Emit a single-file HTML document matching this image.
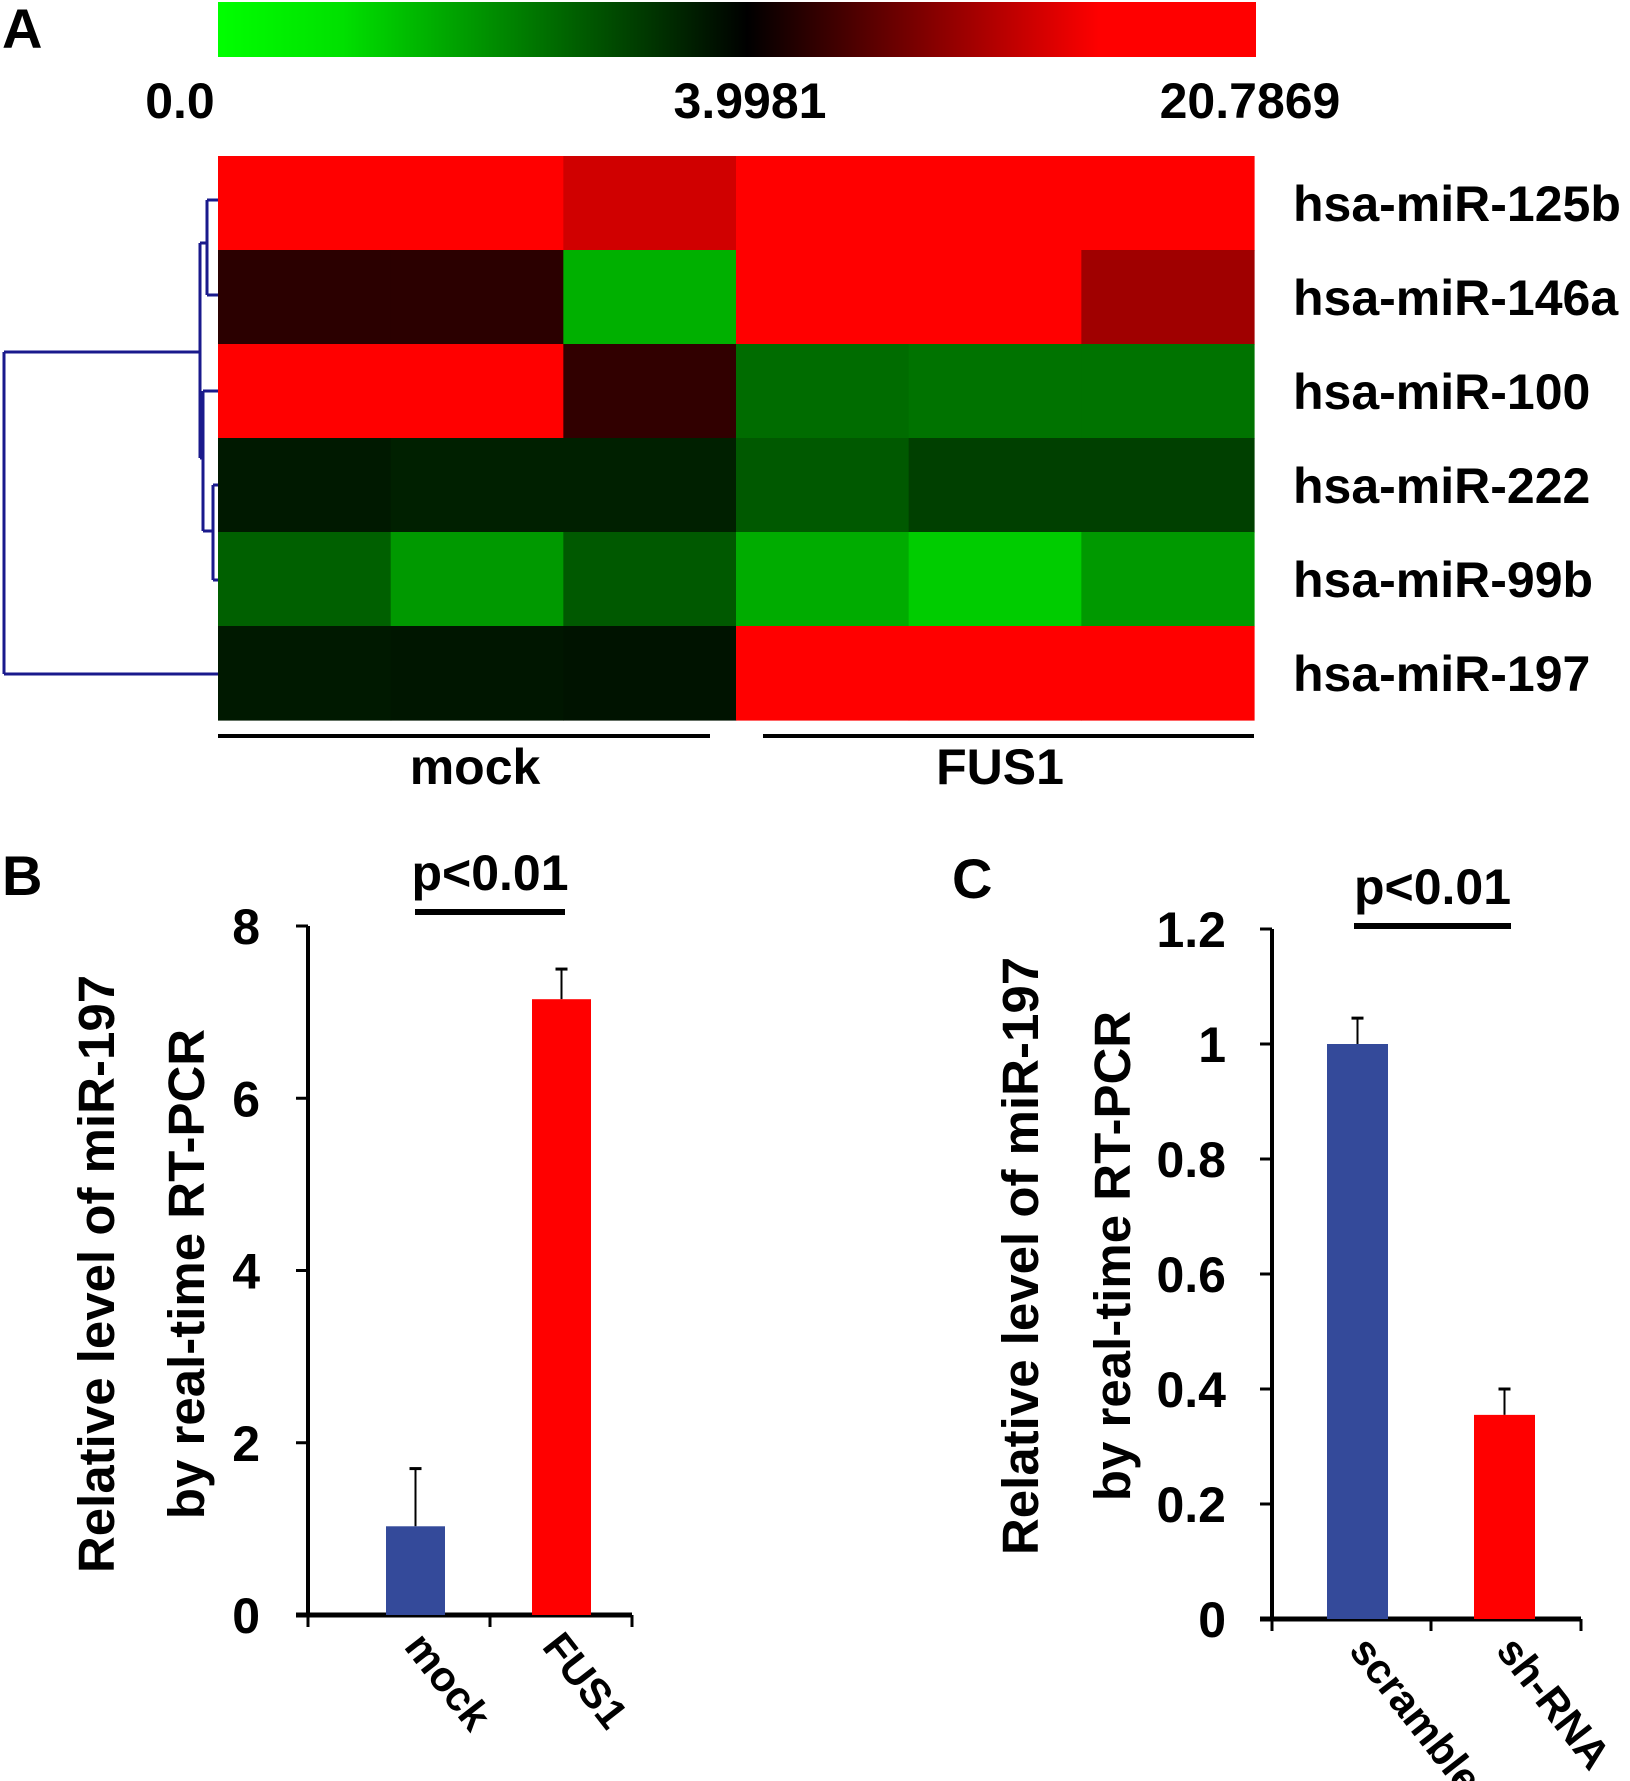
<!DOCTYPE html>
<html><head><meta charset="utf-8"><style>
html,body{margin:0;padding:0;background:#fff;}
svg{display:block;font-family:"Liberation Sans",Arial,sans-serif;font-weight:bold;}
</style></head><body>
<svg id="fig" width="1630" height="1781" viewBox="0 0 1630 1781" xmlns="http://www.w3.org/2000/svg">
<defs>
<linearGradient id="cbar" x1="0" x2="1" y1="0" y2="0">
<stop offset="0" stop-color="#00ff00"/><stop offset="0.12" stop-color="#00e000"/><stop offset="0.51" stop-color="#000000"/><stop offset="0.85" stop-color="#ff0000"/><stop offset="1" stop-color="#ff0000"/>
</linearGradient>
</defs>
<text x="2" y="48" font-size="56">A</text>
<rect x="218" y="2" width="1038" height="55" fill="url(#cbar)"/>
<text x="180" y="118" font-size="50" text-anchor="middle">0.0</text>
<text x="750" y="118" font-size="50" text-anchor="middle">3.9981</text>
<text x="1250" y="118" font-size="50" text-anchor="middle">20.7869</text>
<g id="heat"></g>
<g id="dendro" stroke="#1a1a8c" stroke-width="3" fill="none">
<path d="M4 352 V674 M4 352 H200 M4 674 H218 M200 243 V458 M200 243 H207 M207 200 V295 M207 200 H218 M207 295 H218 M203 391 V531 M203 391 H218 M200 458 H203 M203 531 H213 M213 485 V580 M213 485 H218 M213 580 H218"/>
</g>
<line x1="218" y1="736" x2="710" y2="736" stroke="#000" stroke-width="4"/>
<line x1="763" y1="736" x2="1254" y2="736" stroke="#000" stroke-width="4"/>
<text x="475" y="784" font-size="50" text-anchor="middle">mock</text>
<text x="1000" y="784" font-size="50" text-anchor="middle">FUS1</text>
<g id="rowlabels"></g>
<text x="2" y="895" font-size="56">B</text>
<text x="952" y="898" font-size="56">C</text>
<g id="chartB"></g>
<g id="chartC"></g>
</svg>
<script>
const NS="http://www.w3.org/2000/svg";
const svg=document.getElementById('fig');
function mk(tag,attrs,parent){const e=document.createElementNS(NS,tag);for(const k in attrs)e.setAttribute(k,attrs[k]);(parent||svg).appendChild(e);return e;}

// Heatmap data
const heatRows=["hsa-miR-125b","hsa-miR-146a","hsa-miR-100","hsa-miR-222","hsa-miR-99b","hsa-miR-197"];
const heatCols=["mock-1","mock-2","mock-3","FUS1-1","FUS1-2","FUS1-3"];
const heatVals=[
[19,19,13.8,19,19,19],
[6.0,6.0,1.24,19,19,11.5],
[19,19,6.3,2.3,2.2,2.2],
[3.6,3.5,3.5,2.6,3.0,3.0],
[2.5,1.6,2.6,1.3,0.8,1.6],
[3.6,3.65,3.7,19,19,19]];
const hx0=218,hx1=1254,hy0=156,hy1=720;
const cw=(hx1-hx0)/heatCols.length, rh=(hy1-hy0)/heatRows.length;
function valColor(v){
  let p=v<=3.9981?0.51*v/3.9981:0.51+0.49*(v-3.9981)/(20.7869-3.9981);
  if(p<=0.51){const g=Math.round(255*(1-p/0.51));return `rgb(0,${g},0)`;}
  const r=Math.round(255*Math.min(1,(p-0.51)/0.35));return `rgb(${r},0,0)`;
}
const heat=document.getElementById('heat');
heatVals.forEach((row,i)=>row.forEach((v,j)=>{
  const c=mk('rect',{x:hx0+j*cw,y:hy0+i*rh,width:cw+0.6,height:rh+0.6,fill:valColor(v)},heat);
  
  
}));
const rl=document.getElementById('rowlabels');
heatRows.forEach((n,i)=>{
  const t=mk('text',{x:1293,y:hy0+(i+0.5)*rh+18,'font-size':50},rl);
  t.textContent=n;
  
  
});

// Bar chart B
const bCats=["mock","FUS1"];
const bVals=[1.03,7.15];
const bErr=[0.67,0.35];
const bTicks=[0,2,4,6,8];
// Bar chart C
const cCats=["scramble","sh-RNA"];
const cVals=[1.0,0.355];
const cErr=[0.045,0.045];
const cTicks=["0","0.2","0.4","0.6","0.8","1","1.2"];

function barChart(g,o){
  const y=v=>o.y0-(v/o.max)*(o.y0-o.y1);
  const ax=mk('line',{x1:o.ax,y1:o.y1,x2:o.ax,y2:o.y0,stroke:'#000','stroke-width':4},g);
  
  const xa=mk('line',{x1:o.ax-12,y1:o.y0,x2:o.xend,y2:o.y0,stroke:'#000','stroke-width':5},g);
  
  [o.ax,o.mid,o.xend].forEach(x=>{const t=mk('line',{x1:x,y1:o.y0,x2:x,y2:o.y0+12,stroke:'#000','stroke-width':3},g);});
  o.ticks.forEach(tv=>{
    const v=parseFloat(tv);
    const tk=mk('line',{x1:o.ax-12,y1:y(v),x2:o.ax,y2:y(v),stroke:'#000','stroke-width':3},g);
    
    const t=mk('text',{x:o.ax-o.tickGap,y:y(v)+18,'font-size':50,'text-anchor':'end'},g);
    t.textContent=tv;
  });
  o.vals.forEach((v,i)=>{
    const bx=o.barX[i];
    const ex=bx+o.bw/2;
    const el=mk('line',{x1:ex,y1:y(v),x2:ex,y2:y(v+o.err[i]),stroke:'#000','stroke-width':2},g);
    
    const ec=mk('line',{x1:ex-6,y1:y(v+o.err[i]),x2:ex+6,y2:y(v+o.err[i]),stroke:'#000','stroke-width':3},g);
    
    const r=mk('rect',{x:bx,y:y(v),width:o.bw,height:o.y0-y(v),fill:o.colors[i]},g);
    
    const lx=o.labX[i],ly=o.y0+32;
    const t=mk('text',{x:lx,y:ly,'font-size':42,transform:`rotate(52 ${lx} ${ly})`},g);
    t.textContent=o.cats[i];
  });
  const s=mk('line',{x1:o.sig[0],y1:o.sig[2],x2:o.sig[1],y2:o.sig[2],stroke:'#000','stroke-width':6},g);
  
  const st=mk('text',{x:(o.sig[0]+o.sig[1])/2,y:o.sig[2]-22,'font-size':50,'text-anchor':'middle'},g);
  st.textContent='p<0.01';
  const t1=mk('text',{x:0,y:0,'font-size':51,'text-anchor':'middle',transform:`translate(${o.t1x},${o.ty}) rotate(-90)`},g);
  t1.textContent='Relative level of miR-197';
  const t2=mk('text',{x:0,y:0,'font-size':51,'text-anchor':'middle',transform:`translate(${o.t2x},${o.ty}) rotate(-90)`},g);
  t2.textContent='by real-time RT-PCR';
}
barChart(document.getElementById('chartB'),{ax:308,y0:1615,y1:926,max:8,xend:632,mid:490,ticks:bTicks.map(String),tickGap:48,
  vals:bVals,err:bErr,cats:bCats,barX:[386,532],bw:59,colors:['#344a9a','#ff0000'],labX:[403,541],
  sig:[415,565,912],t1x:114,t2x:204,ty:1274});
barChart(document.getElementById('chartC'),{ax:1272,y0:1619,y1:929,max:1.2,xend:1581,mid:1431,ticks:cTicks,tickGap:46,
  vals:cVals,err:cErr,cats:cCats,barX:[1327,1474],bw:61,colors:['#344a9a','#ff0000'],labX:[1348,1495],
  sig:[1354,1511,926],t1x:1038,t2x:1130,ty:1256});
</script>
</body></html>
